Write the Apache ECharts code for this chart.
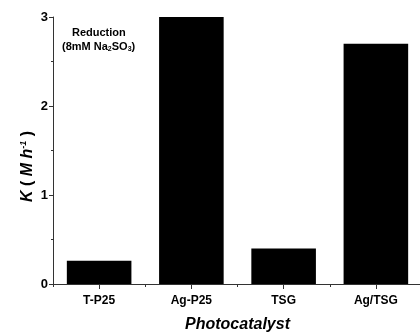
<!DOCTYPE html>
<html>
<head>
<meta charset="utf-8">
<script src="https://cdn.jsdelivr.net/npm/echarts@6/dist/echarts.min.js"></script>
<style>
  html, body { margin: 0; padding: 0; background: #fff; }
  #chart { width: 420px; height: 333px; }
</style>
</head>
<body>
<div id="chart"></div>
<script>
// 数据
let categories = ['T-P25', 'Ag-P25', 'TSG', 'Ag/TSG'];
let rateValues = [0.26, 3.0, 0.40, 2.70];
let yTicks = [0, 1, 2, 3];

let myChart = echarts.init(document.getElementById('chart'));

let fontFamily = '"Liberation Sans", Arial, sans-serif';

let option = {
    animation: false,
    grid: {
        left: 53,
        right: -2,
        top: 17,
        bottom: 49,
        outerBoundsMode: 'none'
    },
    graphic: [
        {
            type: 'text',
            left: 72,
            top: 27,
            style: {
                text: 'Reduction',
                font: 'bold 11px ' + fontFamily,
                fill: '#000'
            }
        },
        {
            type: 'text',
            left: 62,
            top: 41,
            style: {
                text: '{a|(8mM Na}{s|2}{a|SO}{s|3}{a|)}',
                rich: {
                    a: { font: 'bold 11px ' + fontFamily, fill: '#000' },
                    s: { font: 'bold 7px ' + fontFamily, fill: '#000', padding: [6, 0, 0, 0] }
                }
            }
        }
    ],
    xAxis: [
        {
            type: 'category',
            data: categories,
            position: 'bottom',
            name: 'Photocatalyst',
            nameLocation: 'middle',
            nameGap: 33,
            nameTextStyle: {
                fontFamily: fontFamily,
                fontWeight: 'bold',
                fontStyle: 'italic',
                fontSize: 16,
                color: '#000'
            },
            axisLine: { show: true, lineStyle: { color: '#333', width: 1 } },
            axisTick: { show: true, alignWithLabel: true, length: 5, lineStyle: { color: '#333' } },
            axisLabel: {
                margin: 11,
                fontFamily: fontFamily,
                fontWeight: 'bold',
                fontSize: 12,
                color: '#000'
            },
            splitLine: { show: false }
        },
        {
            // 类目边界的小刻度
            type: 'category',
            data: categories,
            position: 'bottom',
            axisLine: { show: false },
            axisTick: { show: true, length: 3, lineStyle: { color: '#333' } },
            axisLabel: { show: false },
            splitLine: { show: false }
        }
    ],
    yAxis: {
        type: 'value',
        min: 0,
        max: 3,
        interval: 1,
        name: '{i|K}{n| ( }{i|M h}{sup|-1}{n| )}',
        nameLocation: 'middle',
        nameGap: 16,
        nameMoveOverlap: false,
        nameRotate: 90,
        nameTextStyle: {
            padding: [0, 32, 0, 0],
            rich: {
                i: { fontFamily: fontFamily, fontWeight: 'bold', fontStyle: 'italic', fontSize: 16, color: '#000' },
                n: { fontFamily: fontFamily, fontWeight: 'bold', fontSize: 16, color: '#000' },
                sup: { fontFamily: fontFamily, fontWeight: 'bold', fontStyle: 'italic', fontSize: 9, color: '#000', padding: [0, 0, 9, 0] }
            }
        },
        axisLine: { show: true, lineStyle: { color: '#333', width: 1 } },
        axisTick: { show: true, length: 4, lineStyle: { color: '#333' } },
        minorTick: { show: true, splitNumber: 2, length: 2, lineStyle: { color: '#333' } },
        axisLabel: {
            margin: 5,
            fontFamily: fontFamily,
            fontWeight: 'bold',
            fontSize: 13,
            color: '#000',
            formatter: function (value) {
                return yTicks.indexOf(value) >= 0 ? String(value) : '';
            }
        },
        splitLine: { show: false }
    },
    series: [
        {
            type: 'bar',
            data: rateValues,
            barWidth: '70%',
            itemStyle: { color: '#000' }
        }
    ]
};

myChart.setOption(option);
</script>
</body>
</html>
